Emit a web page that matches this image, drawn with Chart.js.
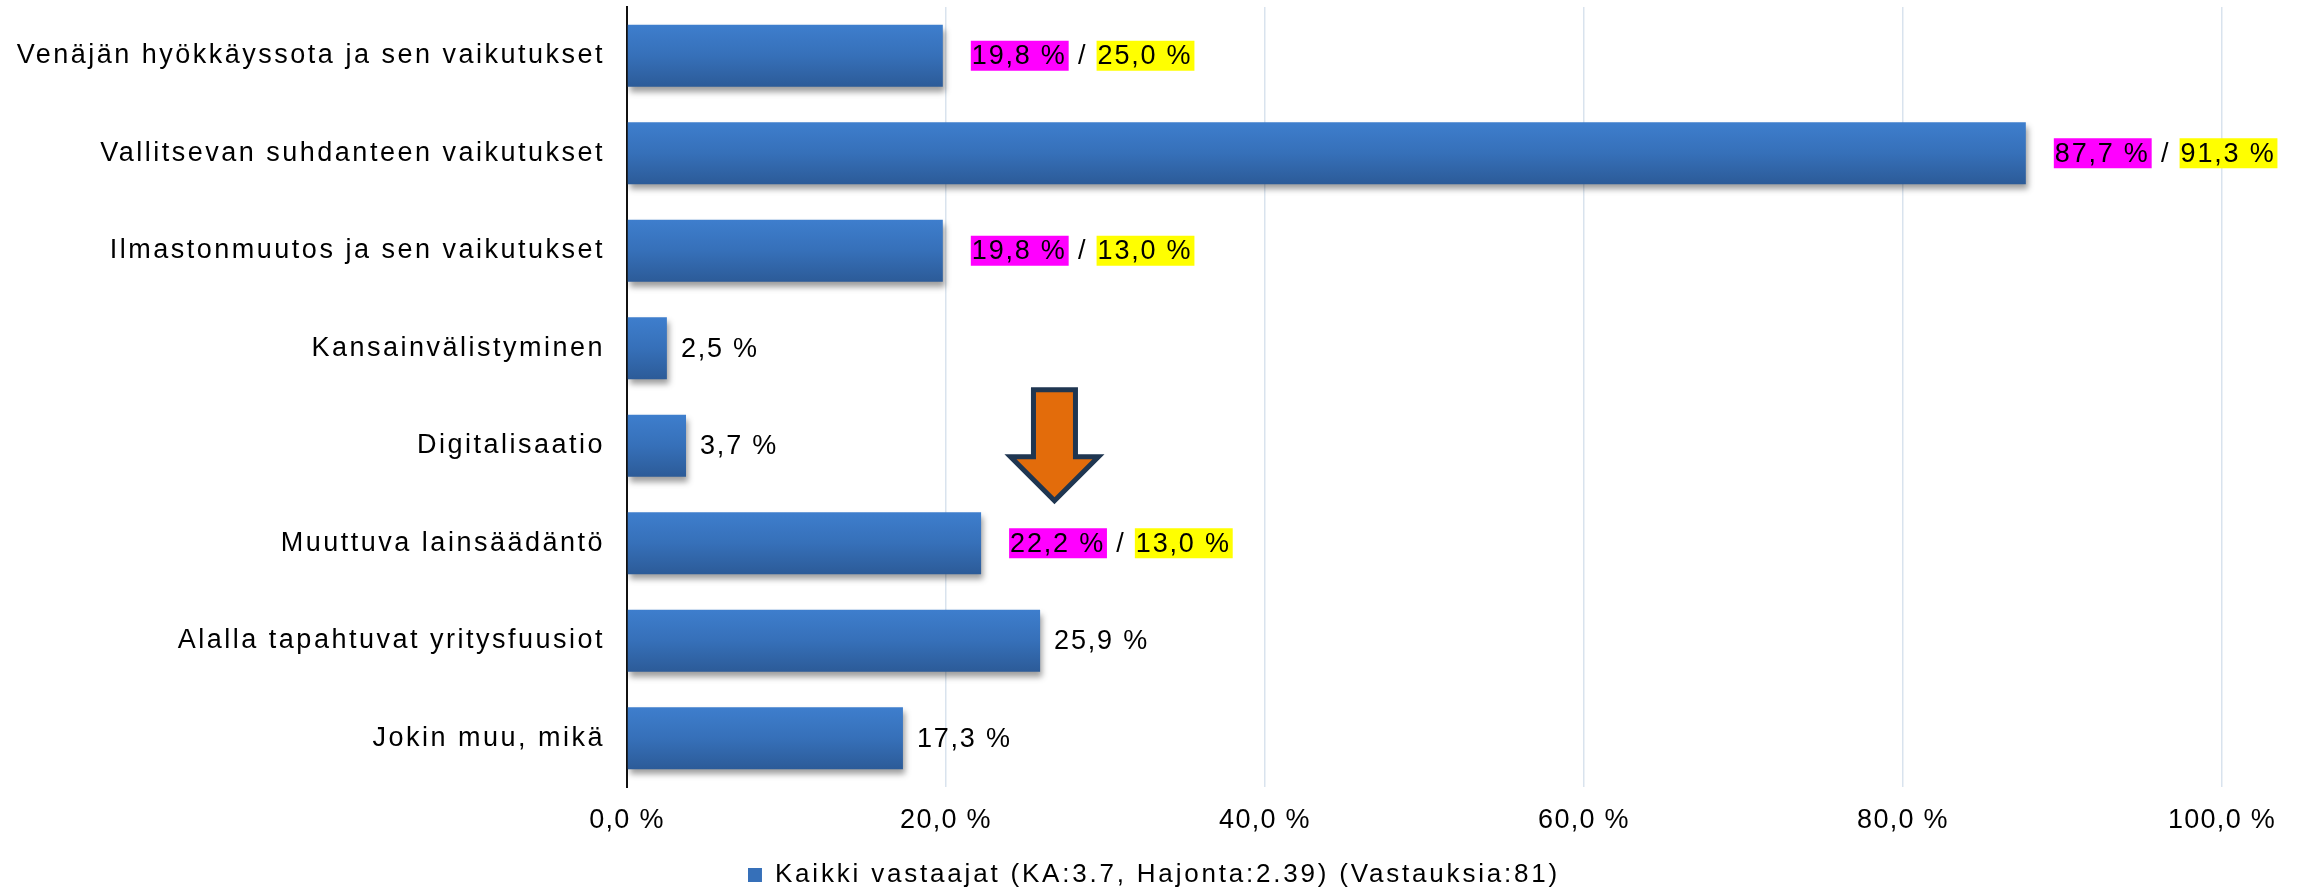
<!DOCTYPE html>
<html>
<head>
<meta charset="utf-8">
<title>Kaikki vastaajat</title>
<script src="https://cdn.jsdelivr.net/npm/chart.js@4.4.0/dist/chart.umd.min.js"></script>
<style>
  html, body { margin: 0; padding: 0; background: #fff; }
  #chart { display: block; }
</style>
</head>
<body>
<canvas id="chart" width="2308" height="891"></canvas>
<script>
const categories = [
  'Venäjän hyökkäyssota ja sen vaikutukset',
  'Vallitsevan suhdanteen vaikutukset',
  'Ilmastonmuutos ja sen vaikutukset',
  'Kansainvälistyminen',
  'Digitalisaatio',
  'Muuttuva lainsäädäntö',
  'Alalla tapahtuvat yritysfuusiot',
  'Jokin muu, mikä'
];
const values = [19.8, 87.7, 19.8, 2.5, 3.7, 22.2, 25.9, 17.3];
const compareValues = [25.0, 91.3, 13.0, null, null, 13.0, null, null];
const xTicks = [0, 20, 40, 60, 80, 100];
const seriesLabel = 'Kaikki vastaajat (KA:3.7, Hajonta:2.39) (Vastauksia:81)';
// orange arrow: sits on this category row, centred at this x value
const arrowIndex = 4;
const arrowValue = 26.8;

const FONT = '"Liberation Sans", Arial, sans-serif';
const BAR_PCT = 0.635;

function pct(v) {
  return v.toFixed(1).replace('.', ',') + ' %';
}

function barGradient(c) {
  const chart = c.chart;
  const y = chart.scales.y;
  if (!y || c.dataIndex === undefined || !chart.chartArea) return '#3670b8';
  const half = (y.bottom - y.top) / categories.length * BAR_PCT / 2;
  const cy = y.getPixelForValue(c.dataIndex);
  const g = chart.ctx.createLinearGradient(0, cy - half, 0, cy + half);
  g.addColorStop(0, '#3e7ecd');
  g.addColorStop(0.5, '#3670b9');
  g.addColorStop(1, '#2c5b98');
  return g;
}

function spacedLabels(scale, spacing) {
  if (!scale || scale._spaced) return;
  const orig = scale.drawLabels;
  scale.drawLabels = function (area) {
    const ctx = this.ctx;
    const prev = ctx.letterSpacing;
    ctx.letterSpacing = spacing;
    orig.call(this, area);
    ctx.letterSpacing = prev;
  };
  scale._spaced = true;
}

function drawBoxed(ctx, text, x, y, color) {
  const w = ctx.measureText(text).width;
  ctx.fillStyle = color;
  ctx.fillRect(x, y - 15, w + 3, 30);
  ctx.fillStyle = '#000';
  ctx.fillText(text, x + 1, y + 1);
  return x + w + 3;
}

function drawArrow(ctx, cx, cy) {
  ctx.save();
  ctx.beginPath();
  ctx.moveTo(cx - 21, cy - 56);
  ctx.lineTo(cx + 21, cy - 56);
  ctx.lineTo(cx + 21, cy + 11);
  ctx.lineTo(cx + 44, cy + 11);
  ctx.lineTo(cx, cy + 55);
  ctx.lineTo(cx - 44, cy + 11);
  ctx.lineTo(cx - 21, cy + 11);
  ctx.closePath();
  ctx.fillStyle = '#e36c0b';
  ctx.fill();
  ctx.lineWidth = 5;
  ctx.lineJoin = 'miter';
  ctx.strokeStyle = '#1f3651';
  ctx.stroke();
  ctx.restore();
}

const extras = {
  id: 'extras',
  beforeUpdate(chart) {
    chart.ctx.letterSpacing = '2.8px';
  },
  afterUpdate(chart) {
    spacedLabels(chart.scales.x, '1.3px');
    spacedLabels(chart.scales.y, '2.5px');
  },
  beforeDraw(chart) {
    chart.ctx.letterSpacing = '2.8px';
  },
  beforeDatasetsDraw(chart) {
    const ctx = chart.ctx;
    ctx.save();
    ctx.shadowColor = 'rgba(0,0,0,0.38)';
    ctx.shadowBlur = 6;
    ctx.shadowOffsetX = 2;
    ctx.shadowOffsetY = 5;
  },
  afterDatasetsDraw(chart) {
    const ctx = chart.ctx;
    ctx.restore();

    const meta = chart.getDatasetMeta(0);
    ctx.save();
    ctx.font = '27px ' + FONT;
    ctx.letterSpacing = '1.8px';
    ctx.textBaseline = 'middle';
    ctx.textAlign = 'left';
    meta.data.forEach(function (bar, i) {
      const y = bar.y;
      if (compareValues[i] == null) {
        ctx.fillStyle = '#000';
        ctx.fillText(pct(values[i]), bar.x + 14, y + 1);
        return;
      }
      let x = bar.x + 28;
      x = drawBoxed(ctx, pct(values[i]), x, y, '#ff00ff');
      ctx.fillStyle = '#000';
      ctx.fillText(' / ', x, y + 1);
      x += ctx.measureText(' / ').width;
      drawBoxed(ctx, pct(compareValues[i]), x, y, '#ffff00');
    });
    ctx.restore();

    drawArrow(ctx, chart.scales.x.getPixelForValue(arrowValue),
      chart.scales.y.getPixelForValue(arrowIndex));
  }
};

const ctx = document.getElementById('chart').getContext('2d');
new Chart(ctx, {
  type: 'bar',
  data: {
    labels: categories,
    datasets: [{
      label: seriesLabel,
      data: values,
      backgroundColor: barGradient,
      borderWidth: 0,
      categoryPercentage: 1,
      barPercentage: BAR_PCT
    }]
  },
  options: {
    indexAxis: 'y',
    responsive: false,
    animation: false,
    devicePixelRatio: 1,
    layout: {
      padding: { top: 7, right: 0, left: 0, bottom: -7 }
    },
    scales: {
      x: {
        min: 0,
        max: 100,
        afterBuildTicks: function (scale) {
          scale.ticks = xTicks.map(function (v) { return { value: v }; });
        },
        afterFit: function (scale) {
          scale.height = 65;
          scale.paddingRight = 86;
        },
        ticks: {
          padding: 17,
          color: '#000',
          font: { family: FONT, size: 27 },
          callback: function (v) { return pct(v); }
        },
        grid: {
          color: '#d9e3ee',
          lineWidth: 1.5,
          drawTicks: false
        },
        border: { display: false }
      },
      y: {
        afterFit: function (scale) {
          scale.width = 627;
          scale.paddingTop = 0;
          scale.paddingBottom = 0;
        },
        ticks: {
          padding: 22,
          color: '#000',
          font: { family: FONT, size: 27 }
        },
        grid: { display: false, drawTicks: false },
        border: { display: true, color: '#111', width: 2 }
      }
    },
    plugins: {
      tooltip: { enabled: false },
      legend: {
        position: 'bottom',
        labels: {
          color: '#000',
          font: { family: FONT, size: 26 },
          boxWidth: 14,
          boxHeight: 14,
          padding: 10,
          generateLabels: function () {
            return [{
              text: seriesLabel,
              fillStyle: '#3670b9',
              strokeStyle: 'rgba(0,0,0,0)',
              lineWidth: 0,
              hidden: false,
              datasetIndex: 0
            }];
          }
        }
      }
    }
  },
  plugins: [extras]
});
</script>
</body>
</html>
